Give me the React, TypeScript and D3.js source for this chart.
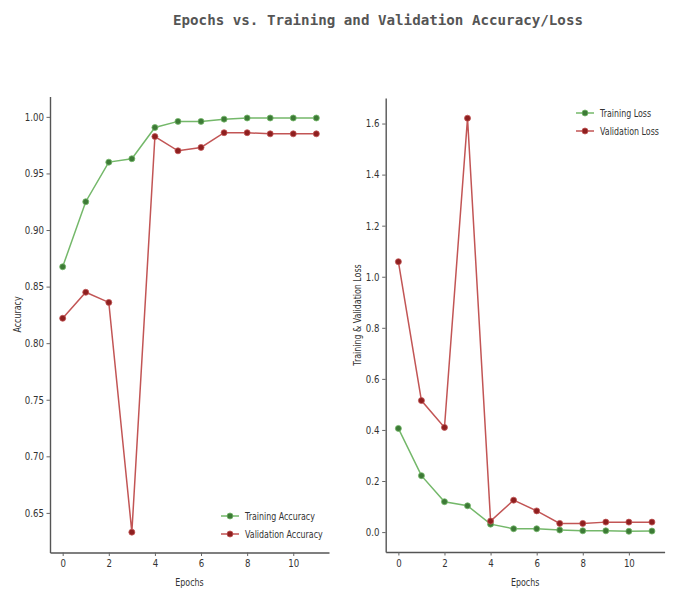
import React, { useEffect, useRef } from "react";
import * as d3 from "d3";

// epochs and values
const epochs = [0, 1, 2, 3, 4, 5, 6, 7, 8, 9, 10, 11];
const trainAcc = [0.8675, 0.925, 0.96, 0.963, 0.9906, 0.996, 0.996, 0.998, 0.999, 0.999, 0.999, 0.999];
const valAcc = [0.822, 0.845, 0.836, 0.633, 0.9826, 0.97, 0.973, 0.986, 0.986, 0.985, 0.985, 0.985];
const trainLoss = [0.406, 0.221, 0.119, 0.103, 0.031, 0.013, 0.013, 0.008, 0.005, 0.005, 0.003, 0.004];
const valLoss = [1.059, 0.515, 0.41, 1.621, 0.043, 0.125, 0.083, 0.034, 0.034, 0.039, 0.039, 0.039];

const accTicks = [0.65, 0.7, 0.75, 0.8, 0.85, 0.9, 0.95, 1.0];
const lossTicks = [0, 0.2, 0.4, 0.6, 0.8, 1.0, 1.2, 1.4, 1.6];
const epochTicks = [0, 2, 4, 6, 8, 10];

const GREEN_LINE = "#74b86a";
const GREEN_DOT = "#3d7a36";
const RED_LINE = "#c25555";
const RED_DOT = "#8e1f1f";
const FONT = "DejaVu Sans, sans-serif";

// squeezed text, the picture is horizontally compressed
function Txt({ x, y, children, anchor = "start", size = 11, sx = 0.72, rotate = 0 }: any) {
  return (
    <g transform={`translate(${x},${y}) rotate(${rotate}) scale(${sx},1)`}>
      <text textAnchor={anchor} fontFamily={FONT} fontSize={size} fill="#333">
        {children}
      </text>
    </g>
  );
}

function Panel({ x0, x1, y0, y1, yDomain, yTicks, yFmt, train, val, yLabel, yLabelX, trainName, valName, legendX, legendY }: any) {
  const xAxisRef = useRef<SVGGElement>(null);
  const yAxisRef = useRef<SVGGElement>(null);

  const x = d3.scaleLinear().domain([-0.55, 11.55]).range([x0, x1]);
  const y = d3.scaleLinear().domain(yDomain).range([y1, y0]);

  useEffect(() => {
    const xa = d3.select(xAxisRef.current);
    xa.call(d3.axisBottom(x).tickValues(epochTicks).tickSize(3.5).tickSizeOuter(0).tickPadding(4));
    const ya = d3.select(yAxisRef.current);
    ya.call(d3.axisLeft(y).tickValues(yTicks).tickFormat(d3.format(yFmt)).tickSize(3.5).tickSizeOuter(0).tickPadding(4));
    [xa, ya].forEach((a) => {
      a.select(".domain").attr("stroke", "#555").attr("stroke-width", 1.4);
      a.selectAll(".tick line").attr("stroke", "#666");
      a.selectAll(".tick text")
        .attr("fill", "#333")
        .attr("font-family", FONT)
        .attr("font-size", 10.5)
        .attr("transform", "scale(0.82,1)");
    });
  }, []);

  const line = d3
    .line<number>()
    .x((_, i) => x(epochs[i]))
    .y((d) => y(d));

  const series = [
    { data: train, line: GREEN_LINE, dot: GREEN_DOT },
    { data: val, line: RED_LINE, dot: RED_DOT },
  ];

  return (
    <g>
      {series.map((s, k) => (
        <g key={k}>
          <path d={line(s.data) || ""} fill="none" stroke={s.line} strokeWidth={1.5} />
          {s.data.map((v: number, i: number) => (
            <circle key={i} cx={x(epochs[i])} cy={y(v)} r={3} fill={s.dot} stroke={s.line} strokeWidth={0.8} />
          ))}
        </g>
      ))}
      <g ref={xAxisRef} transform={`translate(0,${y1})`} />
      <g ref={yAxisRef} transform={`translate(${x0},0)`} />
      <Txt x={(x0 + x1) / 2} y={586} anchor="middle">Epochs</Txt>
      <Txt x={yLabelX} y={(y0 + y1) / 2 - 10} anchor="middle" rotate={-90}>{yLabel}</Txt>
      {[
        { name: trainName, c: series[0] },
        { name: valName, c: series[1] },
      ].map((l, i) => (
        <g key={i}>
          <line x1={legendX - 9} x2={legendX + 9} y1={legendY + i * 18} y2={legendY + i * 18} stroke={l.c.line} strokeWidth={1.5} />
          <circle cx={legendX} cy={legendY + i * 18} r={3} fill={l.c.dot} stroke={l.c.line} strokeWidth={0.8} />
          <Txt x={legendX + 15} y={legendY + i * 18 + 4}>{l.name}</Txt>
        </g>
      ))}
    </g>
  );
}

export default function App() {
  return (
    <svg width={675} height={591} style={{ display: "block", position: "absolute", left: 0, top: 0, background: "#fff" }}>
      <text x={378} y={25} textAnchor="middle" fontFamily="DejaVu Sans Mono, monospace" fontSize={14.2} fontWeight="bold" fill="#555">
        Epochs vs. Training and Validation Accuracy/Loss
      </text>
      <Panel
        x0={50}
        x1={329}
        y0={96.5}
        y1={552.5}
        yDomain={[0.615, 1.018]}
        yTicks={accTicks}
        yFmt=".2f"
        train={trainAcc}
        val={valAcc}
        yLabel="Accuracy"
        yLabelX={21}
        trainName="Training Accuracy"
        valName="Validation Accuracy"
        legendX={230}
        legendY={516}
      />
      <Panel
        x0={385.7}
        x1={664.6}
        y0={98}
        y1={552}
        yDomain={[-0.078, 1.7]}
        yTicks={lossTicks}
        yFmt=".1f"
        train={trainLoss}
        val={valLoss}
        yLabel="Training & Validation Loss"
        yLabelX={361}
        trainName="Training Loss"
        valName="Validation Loss"
        legendX={585}
        legendY={113}
      />
    </svg>
  );
}
